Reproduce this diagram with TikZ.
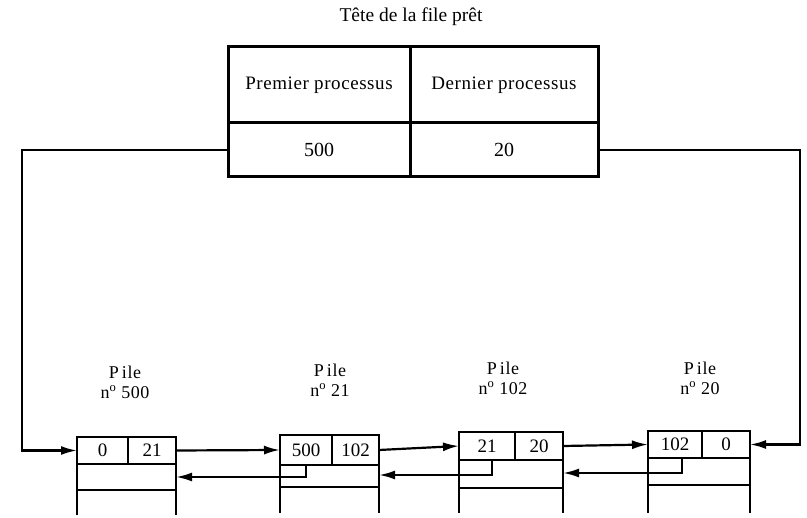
\documentclass[tikz,border=0pt]{standalone}
\usepackage{fontspec}
\setmainfont{Liberation Serif}
\newfontfamily\spaced[LetterSpace=3]{Liberation Serif}
\usetikzlibrary{arrows.meta}
\tikzset{
  hcell/.style={draw, line width=3pt, inner sep=0pt, outer sep=0pt, font=\spaced\fontsize{19}{22}\selectfont},
  frame/.style={draw, line width=2.8pt, inner sep=0pt, outer sep=0pt},
  cell/.style={draw, line width=2.4pt, inner sep=0pt, outer sep=0pt, font=\fontsize{19}{22}\selectfont},
  leg/.style={line width=2.8pt},
  link/.style={line width=2.2pt, -{Latex[length=16pt,width=9pt]}},
  lbl/.style={align=center, font=\spaced\fontsize{18}{20}\selectfont},
  ttl/.style={font=\fontsize{19.5}{22}\selectfont}
}
\begin{document}
\begin{tikzpicture}[x=1pt,y=-1pt]
\useasboundingbox (0,0) rectangle (807,518);
% title
\node[ttl] (title) at (411,17) {Tête de la file prêt};
% head table
\node[hcell, minimum width=182pt, minimum height=76pt] (h1) at (319,85) {Premier\ processus};
\node[hcell, minimum width=188pt, minimum height=76pt] (h2) at (504,85) {Dernier\ processus};
\node[hcell, minimum width=182pt, minimum height=54pt, font=\fontsize{20}{22}\selectfont] (v1) at (319,150) {500};
\node[hcell, minimum width=188pt, minimum height=54pt, font=\fontsize{20}{22}\selectfont] (v2) at (504,150) {20};
% stack 1
\node[frame, minimum width=99pt, minimum height=53pt] (f1) at (126.5,463.5) {};
\node[cell, minimum width=51pt, minimum height=27pt] (a1) at (102.5,450.5) {0};
\node[cell, minimum width=48pt, minimum height=27pt] (b1) at (152,450.5) {21};
\draw[leg] (f1.south west) -- ++(0,25);
\draw[leg] (f1.south east) -- ++(0,25);
% stack 2
\node[frame, minimum width=99pt, minimum height=52pt] (f2) at (329.5,461) {};
\node[cell, minimum width=52pt, minimum height=30pt] (a2) at (306,450) {500};
\node[cell, minimum width=47pt, minimum height=30pt] (b2) at (355.5,450) {102};
\draw[leg] (f2.south west) -- ++(0,26);
\draw[leg] (f2.south east) -- ++(0,26);
% stack 3
\node[frame, minimum width=104pt, minimum height=56pt] (f3) at (511,460) {};
\node[cell, minimum width=56pt, minimum height=28pt] (a3) at (487,446) {21};
\node[cell, minimum width=48pt, minimum height=28pt] (b3) at (539,446) {20};
\draw[leg] (f3.south west) -- ++(0,25);
\draw[leg] (f3.south east) -- ++(0,25);
% stack 4
\node[frame, minimum width=102pt, minimum height=54pt] (f4) at (699,458) {};
\node[cell, minimum width=54pt, minimum height=27pt] (a4) at (675,444.5) {102};
\node[cell, minimum width=48pt, minimum height=27pt] (b4) at (726,444.5) {0};
\draw[leg] (f4.south west) -- ++(0,28);
\draw[leg] (f4.south east) -- ++(0,28);
% labels
\node[lbl] (l1) at (125,382) {P\,ile\\n\textsuperscript{o} 500};
\node[lbl] (l2) at (330,380) {P\,ile\\n\textsuperscript{o} 21};
\node[lbl] (l3) at (503,378) {P\,ile\\n\textsuperscript{o} 102};
\node[lbl] (l4) at (700,378) {P\,ile\\n\textsuperscript{o} 20};
% forward links
\draw[link] (b1.east) -- (a2.west);
\draw[link] (b2.east) -- (a3.west);
\draw[link] (b3.east) -- (a4.west);
% backward links
\draw[link] (a2.south) |- (f1.east |- 0,477);
\draw[link] ([xshift=5pt]a3.south) |- (f2.east |- 0,475);
\draw[link] ([xshift=7pt]a4.south) |- (f3.east |- 0,473);
% head pointers
\draw[link] (v1.west) -| (22,0 |- a1.west) -- (a1.west);
\draw[link] (v2.east) -| (800,0 |- b4.east) -- (b4.east);
\end{tikzpicture}
\end{document}
